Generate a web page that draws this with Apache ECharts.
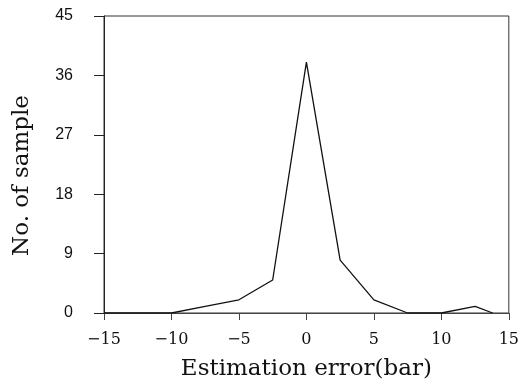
<!DOCTYPE html>
<html>
<head>
<meta charset="utf-8">
<script src="https://cdn.jsdelivr.net/npm/echarts@6/dist/echarts.min.js"></script>
<style>
  html, body { margin: 0; padding: 0; background: #fff; }
  #chart { width: 522px; height: 386px; }
</style>
</head>
<body>
<div id="chart"></div>
<script>
// estimation error (bar) and number of samples
const errorBar = [-15, -12.5, -10, -7.5, -5, -2.5, 0, 2.5, 5, 7.5, 10, 12.5, 13.8];
const sampleCount = [0, 0, 0, 1, 2, 5, 38, 8, 2, 0, 0, 1, 0];
const xTicks = [-15, -10, -5, 0, 5, 10, 15];
const yTicks = [0, 9, 18, 27, 36, 45];

const chart = echarts.init(document.getElementById("chart"));

const serif = "'DejaVu Serif', 'Liberation Serif', serif";

chart.setOption({
  animation: false,
  backgroundColor: "#fff",
  grid: {
    left: 104,
    right: 11,
    top: 16,
    bottom: 71,
    show: true,
    borderColor: "#333",
    borderWidth: 1,
  },
  xAxis: {
    type: "value",
    min: xTicks[0],
    max: xTicks[xTicks.length - 1],
    interval: 5,
    name: "Estimation error(bar)",
    nameLocation: "middle",
    nameGap: 45,
    nameTextStyle: {
      fontFamily: serif,
      fontSize: 23,
      color: "#111",
    },
    axisLine: { show: true, onZero: false, lineStyle: { color: "#444", width: 1 } },
    axisTick: { show: true, length: 7, lineStyle: { color: "#444" } },
    axisLabel: {
      margin: 19,
      fontFamily: serif,
      fontSize: 16,
      color: "#111",
      formatter: (v) => (v < 0 ? "\u2212" + Math.abs(v) : String(v)),
    },
    splitLine: { show: false },
  },
  yAxis: {
    type: "value",
    min: yTicks[0],
    max: yTicks[yTicks.length - 1],
    interval: 9,
    name: "No. of sample",
    nameLocation: "middle",
    nameGap: 70,
    nameTextStyle: {
      fontFamily: serif,
      fontSize: 23,
      color: "#111",
      padding: [0, 22, 0, 0],
    },
    axisLine: { show: true, onZero: false, lineStyle: { color: "#222", width: 1 } },
    axisTick: { show: true, length: 10, lineStyle: { color: "#222" } },
    axisLabel: {
      margin: 31,
      fontFamily: "'Liberation Sans', Arial, sans-serif",
      fontSize: 16,
      color: "#111",
    },
    splitLine: { show: false },
  },
  series: [
    {
      type: "line",
      data: errorBar.map((x, i) => [x, sampleCount[i]]),
      symbol: "none",
      lineStyle: { color: "#111", width: 1.3 },
    },
  ],
});
</script>
</body>
</html>
